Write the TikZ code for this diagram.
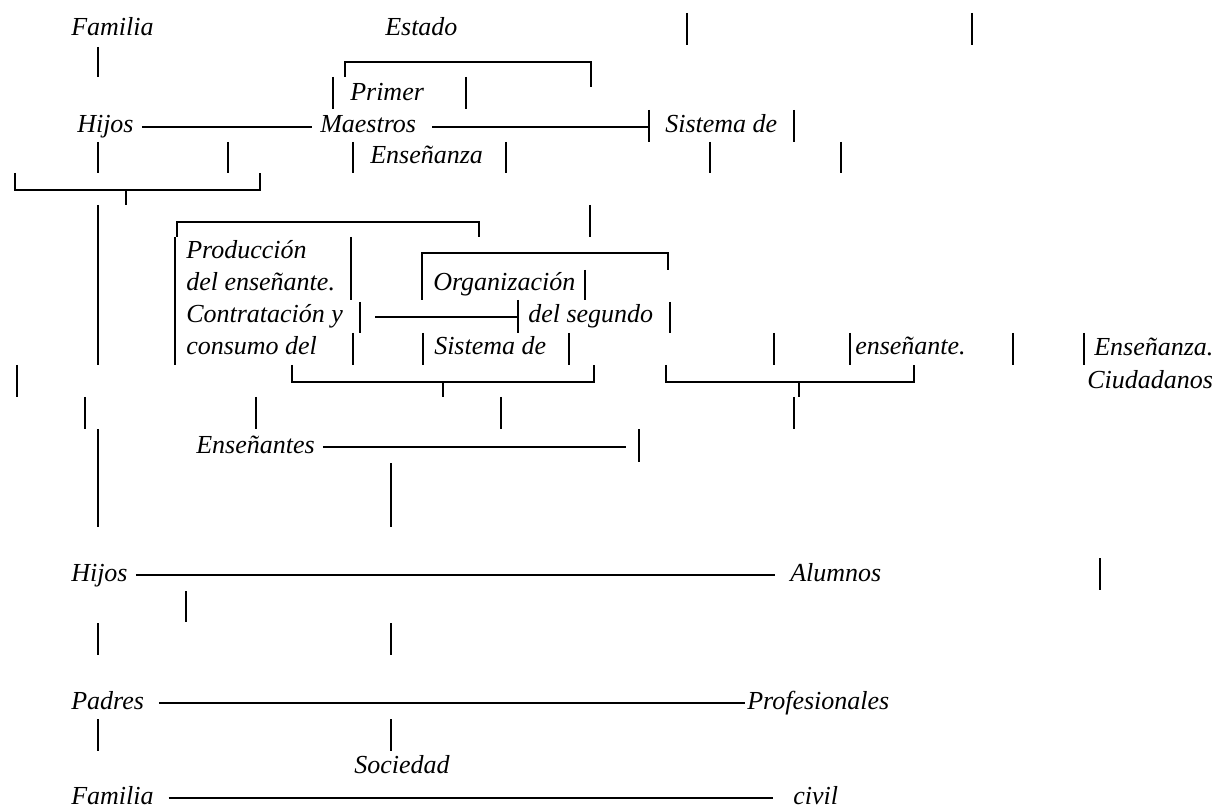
\documentclass[tikz,border=0pt]{standalone}
\usepackage{fontspec}
\setmainfont{Liberation Serif}

\begin{document}
\begin{tikzpicture}[x=0.75pt, y=-0.75pt,
	ln/.style={line width=1.2pt},
	txt/.style={anchor=west, inner sep=0pt, text height=13pt, text depth=4pt,
		font=\itshape\fontsize{19.5}{23}\selectfont}]

	\useasboundingbox (0, 0) rectangle (1218, 809);

	% Texts

	\node [txt] (familiaA) at (71, 30) {Familia};
	\node [txt] (estado) at (385, 30) {Estado};
	\node [txt] (primer) at (350, 95) {Primer};
	\node [txt] (hijosA) at (77, 127) {Hijos};
	\node [txt] (maestros) at (320, 127) {Maestros};
	\node [txt] (sistemaA) at (665, 127) {Sistema de};
	\node [txt] (ensenanzaA) at (370, 158) {Enseñanza};

	\node [txt] (produccion) at (186, 253) {Producción};
	\node [txt] (delensenante) at (186, 285) {del enseñante.};
	\node [txt] (contratacion) at (186, 317) {Contratación y};
	\node [txt] (consumo) at (186, 348) {consumo del};
	\node [txt] (organizacion) at (433, 285) {Organización};
	\node [txt] (segundo) at (528, 317) {del segundo};
	\node [txt] (sistemaB) at (434, 348) {Sistema de};
	\node [txt] (ensenante) at (855, 348) {enseñante.};
	\node [txt] (ensenanzaB) at (1094, 350) {Enseñanza.};
	\node [txt] (ciudadanos) at (1087, 382) {Ciudadanos};
	\node [txt] (ensenantes) at (196, 447) {Enseñantes};

	\node [txt] (hijosB) at (71, 575) {Hijos};
	\node [txt] (alumnos) at (790, 575) {Alumnos};
	\node [txt] (padres) at (71, 703) {Padres};
	\node [txt] (profesionales) at (747, 703) {Profesionales};
	\node [txt] (sociedad) at (354, 767) {Sociedad};
	\node [txt] (familiaB) at (71, 798) {Familia};
	\node [txt] (civil) at (793, 798) {civil};

	% Horizontal links

	\draw [ln] ([xshift=6pt] hijosA.east) -- ([xshift=-6pt] maestros.west);
	\draw [ln] ([xshift=12pt] maestros.east) -- (649, 127);
	\draw [ln] (375, 317) -- (518, 317);
	\draw [ln] ([xshift=6pt] ensenantes.east) -- (626, 447);
	\draw [ln] ([xshift=6pt] hijosB.east) -- ([xshift=-11pt] alumnos.west);
	\draw [ln] ([xshift=11pt] padres.east) -- ([xshift=-1.5pt] profesionales.west);
	\draw [ln] ([xshift=11pt] familiaB.east) -- ([xshift=-15pt] civil.west);

	% Brackets

	\draw [ln] (345, 77) -- (345, 62) -- (591, 62) -- (591, 87);
	\draw [ln] (177, 237) -- (177, 222) -- (479, 222) -- (479, 237);
	\draw [ln] (422, 300) -- (422, 253) -- (668, 253) -- (668, 270);

	\draw [ln] (15, 173) -- (15, 190) -- (260, 190) -- (260, 173);
	\draw [ln] (126, 190) -- (126, 205);
	\draw [ln] (292, 365) -- (292, 382) -- (594, 382) -- (594, 365);
	\draw [ln] (443, 382) -- (443, 397);
	\draw [ln] (666, 365) -- (666, 382) -- (914, 382) -- (914, 365);
	\draw [ln] (799, 382) -- (799, 397);

	% Bars

	\foreach \x/\ya/\yb in {687/13/45, 972/13/45, 98/47/77,
		333/77/109, 466/77/109, 649/110/142, 794/110/142,
		98/142/173, 228/142/173, 353/142/173, 506/142/173, 710/142/173, 841/142/173,
		98/205/365, 590/205/237, 175/237/365, 351/237/300, 360/302/333,
		518/300/333, 670/302/333, 585/270/300,
		353/333/365, 423/333/365, 569/333/365,
		774/333/365, 850/333/365, 1013/333/365, 1084/333/365,
		17/365/397, 85/397/429, 256/397/429, 501/397/429, 794/397/429,
		98/429/527, 391/463/527, 639/429/462,
		1100/558/590, 186/591/622, 98/623/655, 391/623/655,
		98/719/751, 391/719/751}
	{
		\draw [ln] (\x, \ya) -- (\x, \yb);
	}

\end{tikzpicture}
\end{document}
